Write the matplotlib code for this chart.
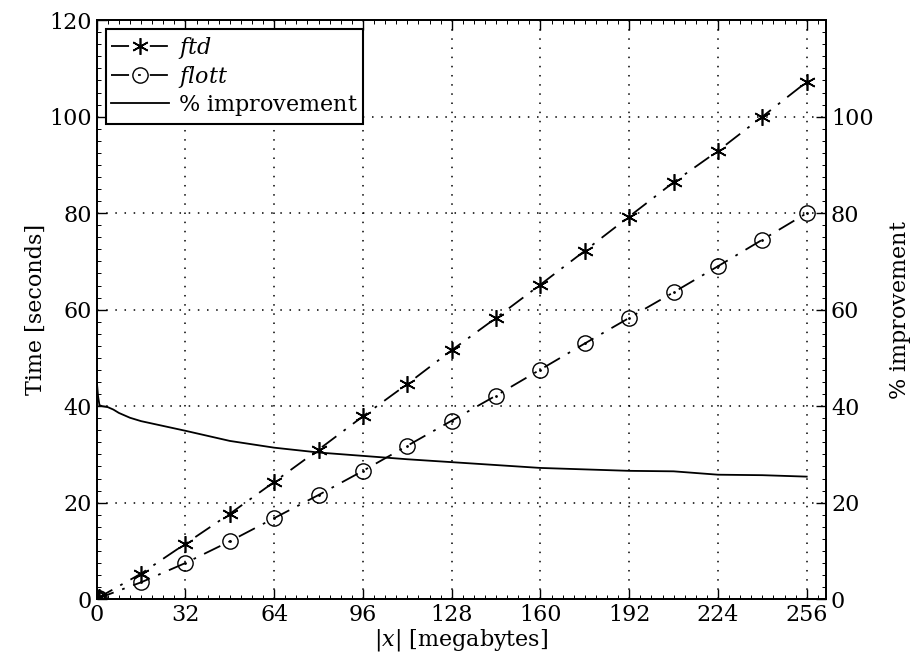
import matplotlib
matplotlib.use("Agg")
import matplotlib.pyplot as plt
from matplotlib.ticker import MultipleLocator

plt.rcParams['font.family'] = ['DejaVu Serif']
plt.rcParams['mathtext.fontset'] = 'dejavuserif'
plt.rcParams['font.size'] = 16

# sizes in megabytes
sizes = [0.0625, 0.125, 0.25, 0.5, 1, 16, 32, 48, 64, 80, 96, 112, 128,
         144, 160, 176, 192, 208, 224, 240, 256]
ftd = [0.03, 0.06, 0.12, 0.24, 0.45, 5.3, 11.5, 17.7, 24.3, 31.0, 37.9, 44.6,
       51.6, 58.3, 65.2, 72.2, 79.3, 86.4, 92.9, 100.0, 107.2]
flott = [0.02, 0.04, 0.08, 0.15, 0.3, 3.5, 7.5, 12.0, 16.8, 21.6, 26.6, 31.8,
         37.0, 42.2, 47.6, 53.0, 58.3, 63.6, 69.0, 74.5, 80.0]

impr_x = [0.125, 0.5, 1, 2, 4, 6, 8, 12, 16, 24, 32, 48, 64, 80, 96, 112,
          128, 144, 160, 176, 192, 208, 224, 240, 256]
impr_y = [44.5, 42.0, 40.2, 40.0, 39.8, 39.3, 38.6, 37.6, 36.9, 35.9, 34.9,
          32.8, 31.4, 30.4, 29.7, 29.0, 28.4, 27.8, 27.2, 26.9, 26.6, 26.5,
          25.8, 25.7, 25.4]

fig = plt.figure(figsize=(9.21, 6.71), dpi=100)
ax = fig.add_axes([0.105, 0.107, 0.792, 0.863])
ax2 = ax.twinx()

dd = (10, 5, 1.5, 5)
l1, = ax.plot(sizes, ftd, color='k', ls='-.', lw=1.3, marker=(6, 2, 0),
              ms=12, mew=1.2, dashes=dd)
l2, = ax.plot(sizes, flott, color='k', ls='-.', lw=1.3, marker='o', ms=11,
              mfc='none', mew=1.0, dashes=dd)
ax.plot(sizes, flott, color='k', ls='none', marker='.', ms=2)
l3, = ax2.plot(impr_x, impr_y, color='k', lw=1.3)

ax.set_xlim(0, 263)
ax.set_ylim(0, 120)
ax2.set_ylim(0, 120)
ax.xaxis.set_major_locator(MultipleLocator(32))
ax.xaxis.set_minor_locator(MultipleLocator(4))
ax.yaxis.set_major_locator(MultipleLocator(20))
ax.yaxis.set_minor_locator(MultipleLocator(2.5))
ax2.set_yticks([0, 20, 40, 60, 80, 100])
ax2.yaxis.set_minor_locator(MultipleLocator(2.5))

ax.grid(True, which='major', color='k', ls=(0, (1, 5)), lw=1.1)
ax.tick_params(which='both', direction='in', top=True, right=False)
ax.tick_params(which='major', length=7, width=1)
ax.tick_params(which='minor', length=3, width=0.7)
ax2.tick_params(which='both', direction='in')
ax2.tick_params(which='major', length=7, width=1)
ax2.tick_params(which='minor', length=3, width=0.7)
for a in (ax, ax2):
    for s in a.spines.values():
        s.set_linewidth(1.3)

ax.set_xlabel(r'$|x|$ [megabytes]', labelpad=1)
ax.set_ylabel('Time [seconds]', labelpad=2)
ax2.set_ylabel(r'$\%$ improvement', labelpad=10)

leg = ax.legend([l1, l2, l3], [r'$\mathit{ftd}$', r'$\mathit{flott}$',
                               r'$\%$ improvement'],
                loc='upper left', fancybox=False, framealpha=1,
                edgecolor='k', borderaxespad=0.4, handlelength=2.6,
                handletextpad=0.4, labelspacing=0.15, borderpad=0.25)
leg.get_frame().set_linewidth(1.5)

fig.savefig('out.png', dpi=100)
